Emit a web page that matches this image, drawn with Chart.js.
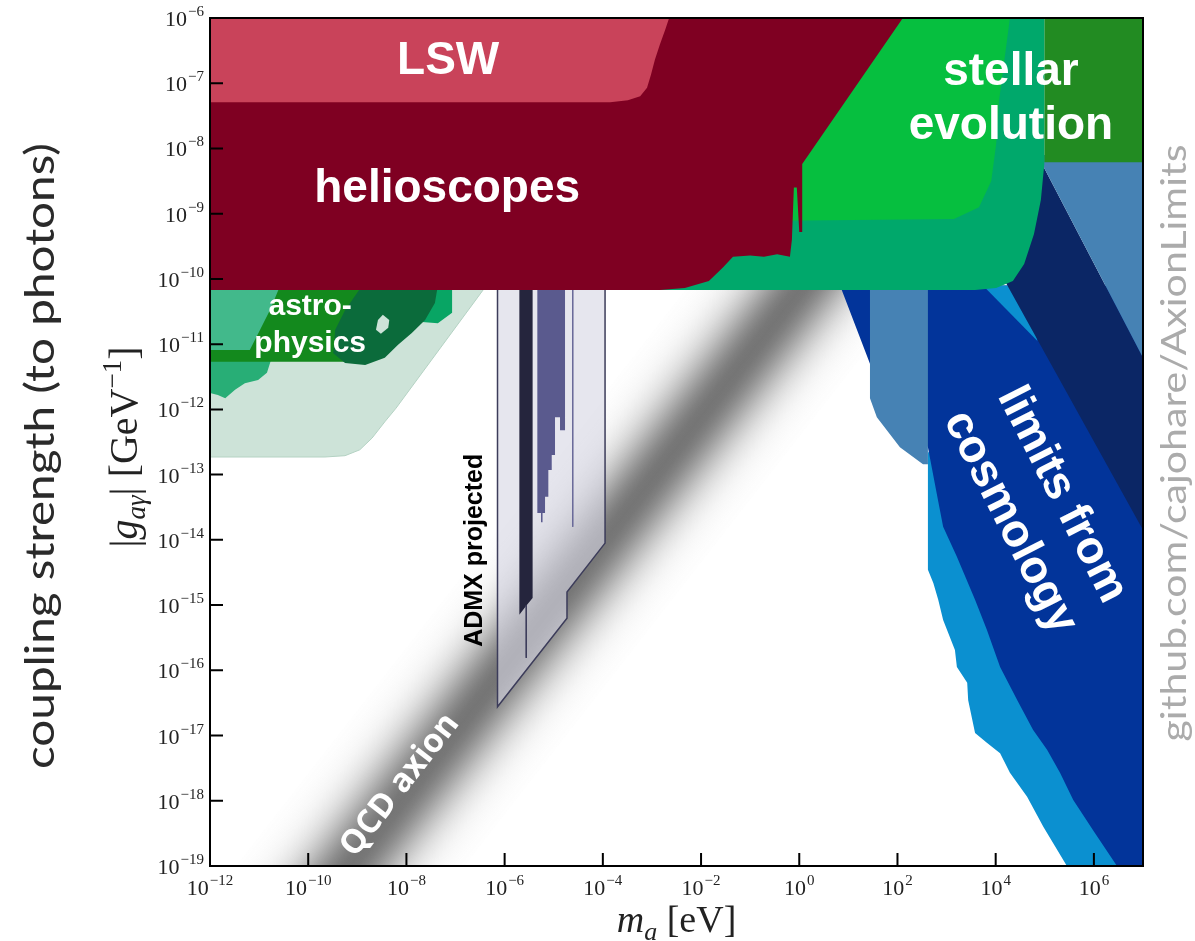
<!DOCTYPE html>
<html>
<head>
<meta charset="utf-8">
<title>Axion-photon coupling limits</title>
<script src="https://cdn.jsdelivr.net/npm/chart.js@4.4.1/dist/chart.umd.min.js"></script>
<style>
  html, body { margin: 0; padding: 0; background: #fff; }
  #wrap { width: 1195px; height: 941px; }
</style>
</head>
<body>
<div id="wrap"><canvas id="limitsChart" width="1195" height="941"></canvas></div>
<script>
// tick values
const massTicks = [1e-12, 1e-10, 1e-8, 1e-6, 1e-4, 1e-2, 1, 1e2, 1e4, 1e6];
const couplingTicks = [1e-19, 1e-18, 1e-17, 1e-16, 1e-15, 1e-14, 1e-13, 1e-12, 1e-11, 1e-10, 1e-9, 1e-8, 1e-7, 1e-6];

// region outlines, as [log10(m_a/eV), log10(|g| GeV)]
const lsw = [[-12,-6],[-2.65,-6],[-2.73,-6.18],[-2.84,-6.41],[-2.94,-6.64],[-3.02,-6.87],[-3.10,-7.07],[-3.24,-7.20],[-3.49,-7.26],[-3.85,-7.29],[-12,-7.29]];
const helioscopes = [[-12,-6],[2.11,-6],[0.06,-8.24],[0.06,-9.28],[0.0,-9.28],[-0.05,-8.6],[-0.11,-8.6],[-0.15,-9.40],[-0.19,-9.66],[-0.45,-9.62],[-0.72,-9.66],[-1.0,-9.64],[-1.35,-9.66],[-1.55,-9.82],[-1.84,-10.03],[-2.33,-10.14],[-2.84,-10.17],[-12,-10.17]];
const stellarGreen = [[1.03,-6],[4.29,-6],[4.07,-7.26],[4.01,-7.93],[3.91,-8.50],[3.66,-8.90],[3.15,-9.08],[-0.39,-9.11],[-0.39,-7.26]];
const horizontalBranch = [[-3.04,-10.17],[-3.04,-9.40],[-0.39,-8.02],[4.09,-6],[4.99,-6],[4.99,-8.24],[4.92,-8.79],[4.78,-9.31],[4.58,-9.77],[4.35,-10.03],[4.01,-10.14],[3.58,-10.17]];
const stellarHeavy = [[4.99,-6],[7,-6],[7,-8.21],[4.99,-8.21]];

const cosmoSteelTop = [[4.85,-8.1],[7,-8.1],[7,-11.21]];
const cosmoNavy = [[2.85,-8.1],[4.85,-8.1],[7,-11.21],[7,-13.85],[4.23,-10.09]];
const cosmoRoyal = [[0.83,-10.1],[7,-10.1],[7,-19],[6.47,-19],[5.98,-18.45],[5.58,-17.99],[5.31,-17.57],[5.05,-17.22],[4.76,-16.91],[4.44,-16.46],[4.09,-15.95],[3.82,-15.38],[3.58,-14.92],[3.21,-14.26],[2.93,-13.80],[2.81,-13.33],[2.62,-12.58],[1.44,-11.30]];
const cosmoWedge = [[3.74,-10.1],[4.6,-10.1],[4.85,-10.95]];
const cosmoSteel = [[1.44,-10.1],[2.62,-10.1],[2.62,-12.84],[2.52,-12.84],[2.05,-12.58],[1.58,-12.12],[1.44,-11.83]];
const cosmoLight = [[2.62,-12.64],[4.09,-14.31],[7,-17.68],[7,-19],[5.45,-19],[4.97,-18.40],[4.64,-17.94],[4.29,-17.57],[4.09,-17.27],[3.82,-17.11],[3.58,-16.96],[3.44,-16.46],[3.42,-16.19],[3.21,-15.95],[3.17,-15.69],[2.93,-15.23],[2.83,-14.92],[2.73,-14.66],[2.62,-14.46]];

const astroHaze = [[-12,-10.1],[-6.37,-10.1],[-8.21,-11.98],[-8.44,-12.19],[-8.70,-12.44],[-8.95,-12.62],[-9.25,-12.71],[-9.66,-12.73],[-12,-12.73]];
const astroTeal = [[-12,-10.1],[-10.47,-10.1],[-10.74,-10.48],[-10.94,-10.78],[-11.14,-11.09],[-12,-11.09]];
const astroBlob = [[-12,-11.2],[-10.74,-11.2],[-10.84,-11.44],[-11.02,-11.55],[-11.29,-11.60],[-11.49,-11.70],[-11.69,-11.83],[-11.84,-11.78],[-12,-11.75]];
const astroForest = [[-10.57,-10.1],[-8.54,-10.1],[-8.64,-11.01],[-9.25,-11.27],[-12,-11.27],[-12,-11.09],[-11.19,-11.09],[-10.98,-10.78],[-10.78,-10.48]];
const astroBright = [[-7.76,-10.1],[-7.07,-10.1],[-7.07,-10.52],[-7.36,-10.68],[-7.68,-10.66],[-7.82,-10.48]];
const astroDark = [[-8.90,-10.1],[-9.25,-10.48],[-9.45,-10.78],[-9.49,-11.14],[-9.25,-11.29],[-8.84,-11.32],[-8.44,-11.21],[-8.17,-11.01],[-7.89,-10.83],[-7.62,-10.63],[-7.42,-10.37],[-7.36,-10.1]];
const astroHole = [[-8.48,-10.55],[-8.35,-10.63],[-8.37,-10.75],[-8.52,-10.84],[-8.62,-10.78],[-8.58,-10.63]];

const admxBox = [[-6.145,-10.1],[-6.145,-16.56],[-4.73,-15.20],[-4.73,-14.80],[-3.955,-14.05],[-3.955,-10.1]];
const admxBar = [[-5.70,-10.1],[-5.43,-10.1],[-5.43,-14.89],[-5.56,-15.01],[-5.70,-15.15]];
const admxSteps = [[-5.334,-10.1],[-4.770,-10.1],[-4.770,-12.32],[-4.872,-12.32],[-4.872,-12.12],[-4.974,-12.12],[-4.974,-12.70],[-5.041,-12.70],[-5.041,-12.93],[-5.110,-12.93],[-5.110,-13.34],[-5.177,-13.34],[-5.177,-13.59],[-5.228,-13.59],[-5.228,-13.73],[-5.259,-13.73],[-5.259,-13.59],[-5.334,-13.59]];
const admxTraceA = [[-5.56,-15.0],[-5.56,-15.81]];
const admxTraceB = [[-4.613,-10.1],[-4.613,-13.80]];

// QCD axion band centre line (ends)
const qcdMass = [1e-10, 1e1];
const qcdCoupling = [1.5e-20, 6.2e-10];

const serif = '"Liberation Serif", "DejaVu Serif", serif';
const sans = '"Liberation Sans", Arial, sans-serif';

const toPoints = pairs => pairs.map(([m, g]) => ({ x: Math.pow(10, m), y: Math.pow(10, g) }));

// back to front
const layers = [
  { pts: astroHaze, fill: '#cde3d8', line: '#b4d2c3', width: 1 },
  { pts: astroTeal, fill: '#42b98b' },
  { pts: astroBlob, fill: '#28ae76' },
  { pts: astroForest, fill: '#13891d' },
  { pts: astroBright, fill: '#08a564' },
  { pts: astroDark, fill: '#0b6b3b' },
  { pts: astroHole, fill: '#cde3d8' },
  { pts: admxBox, fill: 'rgba(214,214,228,0.62)', line: '#3c3c5a', width: 1.5 },
  { pts: admxBar, fill: '#25253d' },
  { pts: admxSteps, fill: '#5a5a8e' },
  { pts: admxTraceA, line: '#3c3c5a', width: 1 },
  { pts: admxTraceB, line: '#6a6a9a', width: 1 },
  { pts: cosmoLight, fill: '#0b90d0' },
  { pts: cosmoRoyal, fill: '#02349a' },
  { pts: cosmoWedge, fill: '#0b90d0' },
  { pts: cosmoSteel, fill: '#4682b4' },
  { pts: cosmoNavy, fill: '#0b2665' },
  { pts: cosmoSteelTop, fill: '#4682b4' },
  { pts: stellarHeavy, fill: '#228b22' },
  { pts: horizontalBranch, fill: '#00a86b' },
  { pts: stellarGreen, fill: '#06bf3f' },
  { pts: helioscopes, fill: '#7f0022' },
  { pts: lsw, fill: '#c9435a' }
];

// soft grey band across the QCD axion line
function bandGradient(chart) {
  const { ctx, scales } = chart;
  if (!chart.chartArea || !scales.x || !scales.y) return 'rgba(100,100,100,0.6)';
  const x0 = scales.x.getPixelForValue(qcdMass[0]), y0 = scales.y.getPixelForValue(qcdCoupling[0]);
  const x1 = scales.x.getPixelForValue(qcdMass[1]), y1 = scales.y.getPixelForValue(qcdCoupling[1]);
  const len = Math.hypot(x1 - x0, y1 - y0);
  const nx = -(y1 - y0) / len, ny = (x1 - x0) / len;
  const half = 90;
  const g = ctx.createLinearGradient(x0 - nx * half, y0 - ny * half, x0 + nx * half, y0 + ny * half);
  for (let i = 0; i <= 30; i++) {
    const t = i / 30;
    const a = 0.88 * Math.exp(-Math.pow(t - 0.5, 2) / (2 * 0.16 * 0.16));
    g.addColorStop(t, 'rgba(98,98,98,' + a.toFixed(3) + ')');
  }
  return g;
}

const datasets = [{
  data: [{ x: qcdMass[0], y: qcdCoupling[0] }, { x: qcdMass[1], y: qcdCoupling[1] }],
  borderColor: ctx => bandGradient(ctx.chart),
  borderWidth: 180,
  borderCapStyle: 'butt',
  fill: false,
  pointRadius: 0,
  clip: 0,
  order: layers.length + 1
}].concat(layers.map((l, i) => ({
  data: toPoints(l.pts),
  backgroundColor: l.fill || 'transparent',
  borderColor: l.line || 'transparent',
  borderWidth: l.width || 0,
  fill: l.fill ? 'shape' : false,
  pointRadius: 0,
  tension: 0,
  clip: 0,
  order: layers.length - i
})));

function powerLabel(ctx, value, px, py, align) {
  const exp = Math.round(Math.log10(value));
  const expText = (exp < 0 ? '\u2212' : '') + Math.abs(exp);
  ctx.font = '22px ' + serif;
  const wb = ctx.measureText('10').width;
  ctx.font = '15px ' + serif;
  const we = ctx.measureText(expText).width;
  const total = wb + 1 + we;
  const left = align === 'right' ? px - total : px - total / 2;
  ctx.font = '22px ' + serif;
  ctx.fillText('10', left, py);
  ctx.font = '15px ' + serif;
  ctx.fillText(expText, left + wb + 1, py - 10);
}

function runs(ctx, parts, cx, cy, angle) {
  ctx.save();
  ctx.translate(cx, cy);
  ctx.rotate(angle);
  ctx.textAlign = 'left';
  ctx.textBaseline = 'alphabetic';
  const widths = parts.map(p => { ctx.font = p[1]; return ctx.measureText(p[0]).width; });
  let x = -widths.reduce((s, w) => s + w, 0) / 2;
  parts.forEach((p, i) => { ctx.font = p[1]; ctx.fillText(p[0], x, p[2]); x += widths[i]; });
  ctx.restore();
}

function label(ctx, text, px, py, font, color, angle, baseline) {
  ctx.save();
  ctx.translate(px, py);
  ctx.rotate(angle || 0);
  ctx.font = font;
  ctx.fillStyle = color;
  ctx.textAlign = 'center';
  ctx.textBaseline = baseline || 'alphabetic';
  ctx.fillText(text, 0, 0);
  ctx.restore();
}

function fittedLabel(ctx, text, px, py, font, color, length) {
  ctx.save();
  ctx.translate(px, py);
  ctx.rotate(-Math.PI / 2);
  ctx.font = font;
  const w = ctx.measureText(text).width;
  ctx.scale(length / w, 1);
  ctx.fillStyle = color;
  ctx.textAlign = 'center';
  ctx.textBaseline = 'alphabetic';
  ctx.fillText(text, 0, 0);
  ctx.restore();
}

const decorations = {
  id: 'decorations',
  afterDatasetsDraw(chart) {
    const { ctx, chartArea: a, scales: { x, y } } = chart;
    const at = (m, g) => [x.getPixelForValue(Math.pow(10, m)), y.getPixelForValue(Math.pow(10, g))];
    ctx.save();

    // region labels
    const white = '#ffffff';
    let p = at(-7.15, -6.86); label(ctx, 'LSW', p[0], p[1], 'bold 46px ' + sans, white);
    p = at(-7.17, -8.82); label(ctx, 'helioscopes', p[0], p[1], 'bold 46px ' + sans, white);
    p = at(4.31, -7.03); label(ctx, 'stellar', p[0], p[1], 'bold 46px ' + sans, white);
    p = at(4.31, -7.85); label(ctx, 'evolution', p[0], p[1], 'bold 46px ' + sans, white);
    p = at(-9.96, -10.55); label(ctx, 'astro-', p[0], p[1], 'bold 30px ' + sans, white);
    p = at(-9.96, -11.12); label(ctx, 'physics', p[0], p[1], 'bold 30px ' + sans, white);
    const tilt = 63 * Math.PI / 180;
    p = at(5.35, -13.31); label(ctx, 'limits from', p[0], p[1], 'bold 46px ' + sans, white, tilt, 'middle');
    p = at(4.29, -13.73); label(ctx, 'cosmology', p[0], p[1], 'bold 46px ' + sans, white, tilt, 'middle');
    p = at(-6.46, -14.16); label(ctx, 'ADMX projected', p[0], p[1], 'bold 25px ' + sans, '#000', -Math.PI / 2);
    const b0 = [x.getPixelForValue(qcdMass[0]), y.getPixelForValue(qcdCoupling[0])];
    const b1 = [x.getPixelForValue(qcdMass[1]), y.getPixelForValue(qcdCoupling[1])];
    p = at(-8.13, -17.76);
    label(ctx, 'QCD axion', p[0], p[1], 'bold 33px "Open Sans", ' + sans, white, Math.atan2(b1[1] - b0[1], b1[0] - b0[0]), 'middle');

    // frame and inward ticks
    ctx.strokeStyle = '#000';
    ctx.lineWidth = 2;
    ctx.strokeRect(a.left, a.top, a.right - a.left, a.bottom - a.top);
    ctx.beginPath();
    x.ticks.forEach(t => { const px = x.getPixelForValue(t.value); ctx.moveTo(px, a.bottom); ctx.lineTo(px, a.bottom - 13); });
    y.ticks.forEach(t => { const py = y.getPixelForValue(t.value); ctx.moveTo(a.left, py); ctx.lineTo(a.left + 13, py); });
    ctx.stroke();

    // tick labels
    ctx.fillStyle = '#222';
    ctx.textAlign = 'left';
    ctx.textBaseline = 'alphabetic';
    x.ticks.forEach(t => powerLabel(ctx, t.value, x.getPixelForValue(t.value), a.bottom + 29, 'center'));
    y.ticks.forEach(t => powerLabel(ctx, t.value, a.left - 6, y.getPixelForValue(t.value) + 8, 'right'));

    // axis titles
    ctx.fillStyle = '#222';
    const midY = (a.top + a.bottom) / 2;
    runs(ctx, [
      ['m', 'italic 38px ' + serif, 0],
      ['a', 'italic 26px ' + serif, 8],
      [' [eV]', '38px ' + serif, 0]
    ], (a.left + a.right) / 2, a.bottom + 66, 0);
    runs(ctx, [
      ['|', '40px ' + serif, 0],
      ['g', 'italic 40px ' + serif, 0],
      ['a\u03b3', 'italic 27px ' + serif, 8],
      ['|', '40px ' + serif, 0],
      [' [GeV', '40px ' + serif, 0],
      ['\u22121', '27px ' + serif, -16],
      [']', '40px ' + serif, 0]
    ], a.left - 73, midY + 5, -Math.PI / 2);
    fittedLabel(ctx, 'coupling strength (to photons)', 54, midY + 14, '40px Lato, "Open Sans", sans-serif', '#2a2a2a', 626);
    fittedLabel(ctx, 'github.com/cajohare/AxionLimits', a.right + 43, midY + 1, '34px Lato, "Open Sans", sans-serif', '#ababab', 597);
    ctx.restore();
  }
};

new Chart(document.getElementById('limitsChart'), {
  type: 'line',
  data: { datasets },
  options: {
    responsive: false,
    animation: false,
    devicePixelRatio: 1,
    layout: { padding: { top: 18, right: 52, left: 0, bottom: 0 } },
    plugins: { legend: { display: false }, tooltip: { enabled: false } },
    elements: { point: { radius: 0 } },
    scales: {
      x: {
        type: 'logarithmic',
        min: 1e-12,
        max: 1e7,
        grid: { display: false },
        border: { display: false },
        ticks: { display: false },
        afterBuildTicks: s => { s.ticks = massTicks.map(v => ({ value: v })); },
        afterFit: s => { s.height = 75; }
      },
      y: {
        type: 'logarithmic',
        min: 1e-19,
        max: 1e-6,
        grid: { display: false },
        border: { display: false },
        ticks: { display: false },
        afterBuildTicks: s => { s.ticks = couplingTicks.map(v => ({ value: v })); },
        afterFit: s => { s.width = 210; }
      }
    }
  },
  plugins: [decorations]
});
</script>
</body>
</html>
